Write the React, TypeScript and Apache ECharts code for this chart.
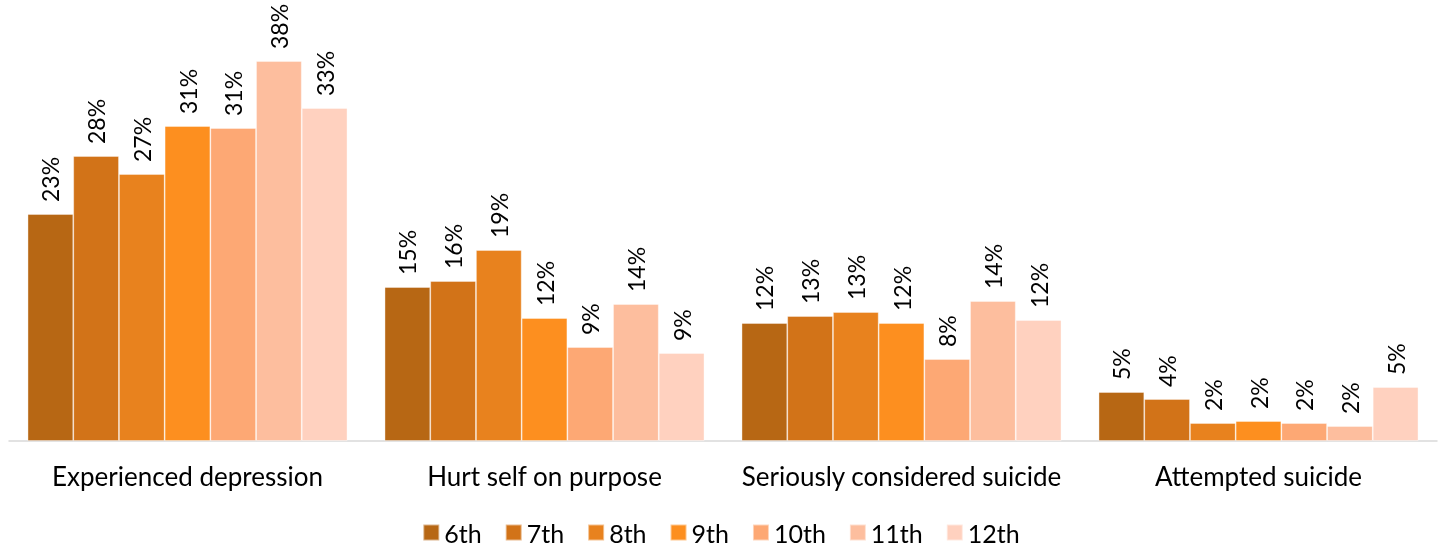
import React, { useEffect, useRef } from "react";
import * as echarts from "echarts";

const categories = ["Experienced depression", "Hurt self on purpose", "Seriously considered suicide", "Attempted suicide"];
const grades = ["6th", "7th", "8th", "9th", "10th", "11th", "12th"];
const colors = ["#B76714", "#D27318", "#E8821E", "#FD8F1F", "#FDA874", "#FDBE9E", "#FFD1BF"];
const s6 = [22.7, 15.4, 11.8, 4.9];
const s7 = [28.5, 16.0, 12.5, 4.2];
const s8 = [26.7, 19.1, 12.9, 1.8];
const s9 = [31.5, 12.3, 11.8, 2.0];
const s10 = [31.3, 9.4, 8.2, 1.8];
const s11 = [38.0, 13.7, 14.0, 1.5];
const s12 = [33.3, 8.8, 12.1, 5.4];
const labels6 = ["23%", "15%", "12%", "5%"];
const labels7 = ["28%", "16%", "13%", "4%"];
const labels8 = ["27%", "19%", "13%", "2%"];
const labels9 = ["31%", "12%", "12%", "2%"];
const labels10 = ["31%", "9%", "8%", "2%"];
const labels11 = ["38%", "14%", "14%", "2%"];
const labels12 = ["33%", "9%", "12%", "5%"];

export default function App() {
  const ref = useRef<HTMLDivElement>(null);
  useEffect(() => {
    if (!ref.current) return;
    const chart = echarts.init(ref.current, undefined, { renderer: "svg" });
    const data = [s6, s7, s8, s9, s10, s11, s12];
    const labs = [labels6, labels7, labels8, labels9, labels10, labels11, labels12];
    const font = "Lato, 'Open Sans', sans-serif";
    chart.setOption({
      animation: false,
      textStyle: { fontFamily: font },
      grid: { left: 9, right: 5, top: 41, bottom: 109, containLabel: false },
      legend: {
        top: 520,
        left: "center",
        itemWidth: 16,
        itemHeight: 16,
        itemGap: 23,
        padding: 0,
        icon: "rect",
        textStyle: { fontSize: 25, color: "#000", fontFamily: font },
        data: grades,
      },
      xAxis: {
        type: "category",
        data: categories,
        axisTick: { show: false },
        axisLine: { lineStyle: { color: "#D9D9D9", width: 1.5 } },
        axisLabel: { interval: 0, fontSize: 26, color: "#000", margin: 22, fontFamily: font },
      },
      yAxis: { type: "value", min: 0, max: 40, show: false, splitLine: { show: false } },
      series: grades.map((g, i) => ({
        name: g,
        type: "bar",
        barGap: "0%",
        barCategoryGap: "10.4%",
        itemStyle: { color: colors[i], borderColor: "rgba(255,255,255,0.5)", borderWidth: 0.8 },
        label: {
          show: true,
          position: "top",
          rotate: 90,
          align: "left",
          verticalAlign: "middle",
          distance: 12,
          fontSize: 23,
          color: "#000",
          fontFamily: font,
          formatter: (p: any) => labs[i][p.dataIndex],
        },
        data: data[i],
      })),
    });
    return () => chart.dispose();
  }, []);
  return <div ref={ref} style={{ position: "fixed", left: 0, top: 0, width: 1442, height: 550 }} />;
}
